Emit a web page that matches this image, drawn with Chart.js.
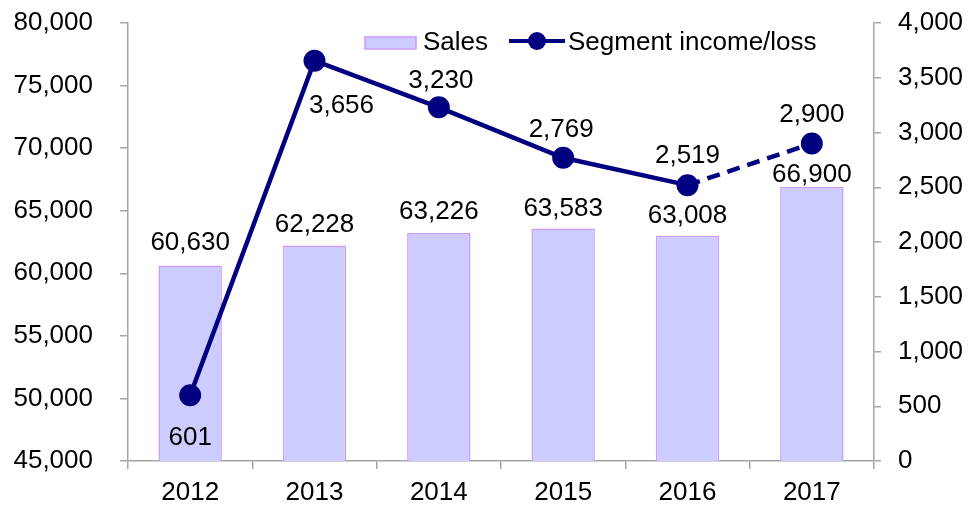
<!DOCTYPE html>
<html>
<head>
<meta charset="utf-8">
<script src="https://cdn.jsdelivr.net/npm/chart.js@4"></script>
<style>
html,body{margin:0;padding:0;background:#fff;}
#wrap{width:971px;height:506px;}
</style>
</head>
<body>
<div id="wrap"><canvas id="c" width="971" height="506"></canvas></div>
<script>
const categories = ['2012','2013','2014','2015','2016','2017'];
const sales = [60630, 62228, 63226, 63583, 63008, 66900];
const segmentIncome = [601, 3656, 3230, 2769, 2519, 2900];
const leftTicks = [45000, 50000, 55000, 60000, 65000, 70000, 75000, 80000];
const rightTicks = [0, 500, 1000, 1500, 2000, 2500, 3000, 3500, 4000];

// label placement styles (pixels relative to the drawn element)
const barLabelGap = [15, 13, 14, 12, 13, 5];
const lineLabelShift = [[0,50],[27,52],[2,-19],[-2,-21],[0,-22],[0,-21]];

const FONT = '"Liberation Sans", Arial, sans-serif';
const AXIS = '#a6a6a6';
const fmt = v => v.toLocaleString('en-US');

const labelsPlugin = {
  id: 'labels',
  afterDatasetsDraw(chart) {
    const ctx = chart.ctx;
    ctx.save();
    ctx.font = '26px ' + FONT;
    ctx.fillStyle = '#000';
    ctx.textAlign = 'center';
    ctx.textBaseline = 'alphabetic';
    chart.getDatasetMeta(0).data.forEach((el, i) => {
      ctx.fillText(fmt(sales[i]), el.x, el.y - barLabelGap[i]);
    });
    chart.getDatasetMeta(1).data.forEach((el, i) => {
      const s = lineLabelShift[i];
      ctx.fillText(fmt(segmentIncome[i]), el.x + s[0], el.y + s[1]);
    });
    ctx.restore();
  },
  afterDraw(chart) {
    const ctx = chart.ctx;
    ctx.save();
    // Sales legend
    ctx.fillStyle = '#ccccff';
    ctx.fillRect(365, 37, 51, 12);
    ctx.strokeStyle = '#cc99ff';
    ctx.lineWidth = 1.5;
    ctx.strokeRect(365, 37, 51, 12);
    ctx.font = '26px ' + FONT;
    ctx.fillStyle = '#000';
    ctx.textAlign = 'left';
    ctx.textBaseline = 'alphabetic';
    ctx.fillText('Sales', 423, 50);
    // Segment legend
    ctx.strokeStyle = '#000080';
    ctx.lineWidth = 4;
    ctx.beginPath();
    ctx.moveTo(509, 41);
    ctx.lineTo(565, 41);
    ctx.stroke();
    ctx.fillStyle = '#000080';
    ctx.beginPath();
    ctx.arc(537, 41, 9, 0, Math.PI * 2);
    ctx.fill();
    ctx.fillStyle = '#000';
    ctx.fillText('Segment income/loss', 568, 50);
    ctx.restore();
  }
};

const noPad = s => { s.paddingTop = 0; s.paddingBottom = 0; };

new Chart(document.getElementById('c'), {
  type: 'bar',
  data: {
    labels: categories,
    datasets: [
      {
        type: 'bar',
        label: 'Sales',
        data: sales,
        yAxisID: 'y',
        backgroundColor: '#ccccff',
        borderColor: '#cc99ff',
        borderWidth: 1.5,
        borderSkipped: 'bottom',
        barPercentage: 0.51,
        categoryPercentage: 1.0,
        order: 2
      },
      {
        type: 'line',
        label: 'Segment income/loss',
        data: segmentIncome,
        yAxisID: 'y1',
        borderColor: '#000080',
        backgroundColor: '#000080',
        borderWidth: 4.5,
        pointRadius: 10,
        pointBorderWidth: 2,
        pointBackgroundColor: '#000080',
        pointBorderColor: '#000080',
        tension: 0,
        segment: {
          borderDash: c => c.p0DataIndex === 4 ? [13, 8] : undefined
        },
        order: 1
      }
    ]
  },
  options: {
    responsive: false,
    animation: false,
    layout: { padding: { top: 23, left: 0, right: 0, bottom: 0 } },
    plugins: { legend: { display: false }, tooltip: { enabled: false } },
    scales: {
      x: {
        offset: true,
        grid: { display: true, drawOnChartArea: false, offset: true, tickLength: 8, color: AXIS, lineWidth: 1.5 },
        border: { color: AXIS, width: 1.5 },
        ticks: { color: '#000', font: { size: 26, family: FONT }, padding: 8, maxRotation: 0 },
        afterFit: s => { s.height = 45; s.paddingLeft = 0; s.paddingRight = 0; }
      },
      y: {
        position: 'left',
        min: 45000, max: 80000,
        afterBuildTicks: s => { s.ticks = leftTicks.map(v => ({ value: v })); },
        grid: { drawOnChartArea: false, tickLength: 8, color: AXIS, lineWidth: 1.5 },
        border: { color: AXIS, width: 1.5 },
        ticks: { color: '#000', font: { size: 26, family: FONT }, padding: 27, callback: v => fmt(v) },
        afterFit: s => { s.width = 128; noPad(s); }
      },
      y1: {
        position: 'right',
        min: 0, max: 4000,
        afterBuildTicks: s => { s.ticks = rightTicks.map(v => ({ value: v })); },
        grid: { drawOnChartArea: false, tickLength: 7, color: AXIS, lineWidth: 1.5 },
        border: { color: AXIS, width: 1.5 },
        ticks: { color: '#000', font: { size: 26, family: FONT }, padding: 17, callback: v => fmt(v) },
        afterFit: s => { s.width = 97; noPad(s); }
      }
    }
  },
  plugins: [labelsPlugin]
});
</script>
</body>
</html>
